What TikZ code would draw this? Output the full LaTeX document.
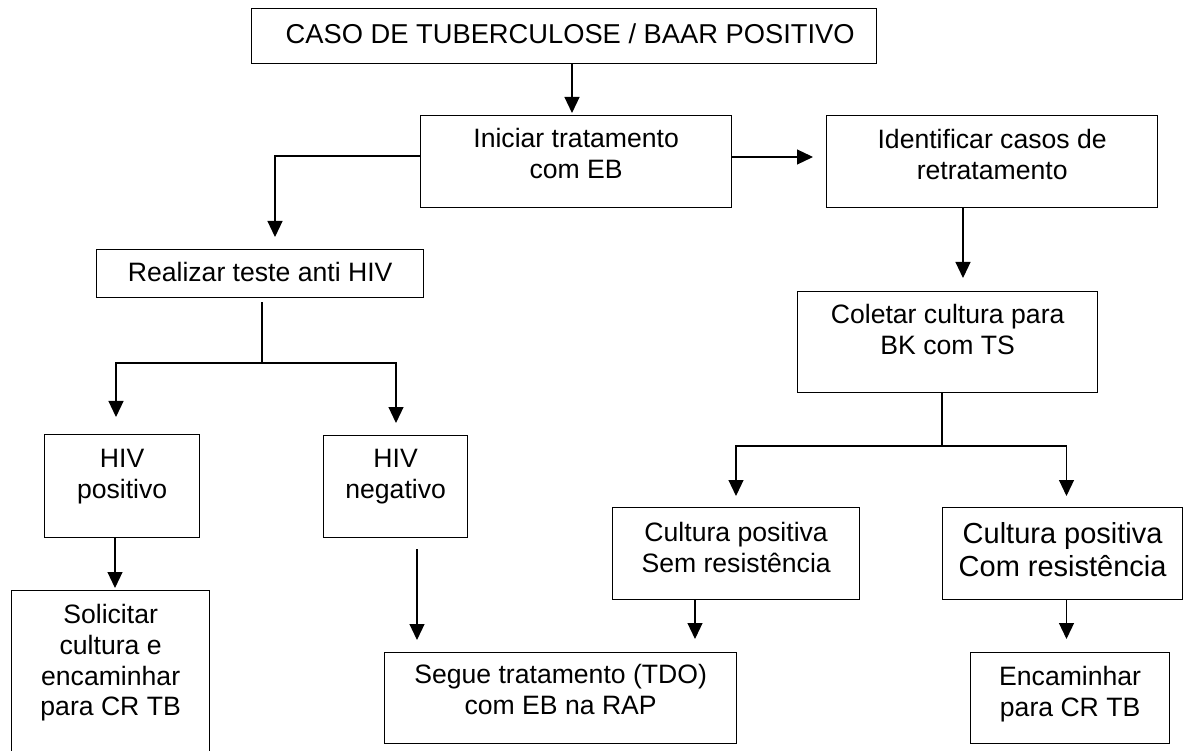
\documentclass[tikz,border=0pt]{standalone}
\usepackage{fontspec}
\setmainfont{Liberation Sans}
\usetikzlibrary{arrows.meta}
\newcommand\boxtxt[1]{\begin{tabular}[t]{@{}c@{}}#1\end{tabular}}
\begin{document}
\begin{tikzpicture}[x=1pt,y=-1pt,
  fbox/.style={draw, line width=1.3pt, inner sep=0pt, anchor=north west,
    font=\fontsize{26.6}{30.7}\selectfont},
  conn/.style={line width=1.2pt},
  arr/.style={conn, -{Triangle[length=16pt,width=15pt]}}]

\fill[white] (0,0) rectangle (1184,751);
\useasboundingbox (0,0) rectangle (1184,751);

% boxes
\node[fbox, minimum width=625pt, minimum height=55pt, text height=35pt, text depth=20pt,
  font=\fontsize{27.3}{31}\selectfont] (top) at (251,8) {\boxtxt{\hspace*{12pt}CASO DE TUBERCULOSE / BAAR POSITIVO}};
\node[fbox, minimum width=311pt, minimum height=92pt, text height=32pt, text depth=60pt] (ini) at (420,115) {\boxtxt{Iniciar tratamento\\com EB}};
\node[fbox, minimum width=331pt, minimum height=92pt, text height=33pt, text depth=59pt] (ide) at (826,115) {\boxtxt{Identificar casos de\\retratamento}};
\node[fbox, minimum width=327pt, minimum height=48pt, text height=32pt, text depth=16pt] (rea) at (96,249) {\boxtxt{Realizar teste anti HIV}};
\node[fbox, minimum width=300pt, minimum height=101pt, text height=32pt, text depth=69pt] (col) at (797,291) {\boxtxt{Coletar cultura para\\BK com TS}};
\node[fbox, minimum width=155pt, minimum height=103pt, text height=33pt, text depth=70pt] (hp) at (44,434) {\boxtxt{HIV\\positivo}};
\node[fbox, minimum width=144pt, minimum height=102pt, text height=32pt, text depth=70pt] (hn) at (323,435) {\boxtxt{HIV\\negativo}};
\node[fbox, minimum width=198pt, minimum height=170pt, text height=33pt, text depth=137pt] (sol) at (11,590) {\boxtxt{Solicitar\\cultura e\\encaminhar\\para CR TB}};
\node[fbox, minimum width=247pt, minimum height=92pt, text height=34pt, text depth=58pt] (sem) at (612,507) {\boxtxt{Cultura positiva\\Sem resistência}};
\node[fbox, minimum width=240pt, minimum height=92pt, text height=36pt, text depth=56pt,
  font=\fontsize{29}{33}\selectfont] (com) at (942,507) {\boxtxt{Cultura positiva\\Com resistência}};
\node[fbox, minimum width=352pt, minimum height=91pt, text height=31pt, text depth=60pt] (seg) at (384,652) {\boxtxt{Segue tratamento (TDO)\\com EB na RAP}};
\node[fbox, minimum width=199pt, minimum height=91pt, text height=33pt, text depth=58pt] (enc) at (970,652) {\boxtxt{Encaminhar\\para CR TB}};

% helper coordinates
\coordinate (x1) at (572,0);
\coordinate (y2) at (0,157);
\coordinate (x3) at (275,156);
\coordinate (j1) at (262,363);
\coordinate (xl) at (116,363);
\coordinate (xr) at (396,363);
\coordinate (x5) at (115,0);
\coordinate (x6) at (417,0);
\coordinate (x7) at (963,0);
\coordinate (j2) at (942,446);
\coordinate (xsl) at (736,446);
\coordinate (xsr) at (1066.5,446);
\coordinate (x9) at (695,0);
\coordinate (x10) at (1066.5,0);

% connectors
\draw[arr, shorten >=2pt] (x1 |- top.south) -- (x1 |- ini.north);
\draw[arr, shorten >=13pt] (ini.east |- y2) -- (ide.west |- y2);
\draw[arr, shorten >=12pt] (ini.west |- x3) -- (x3) -- (x3 |- rea.north);
\draw[conn, shorten <=4pt] (j1 |- rea.south) -- (j1);
\draw[arr, shorten >=17pt] (j1) -- (xl) -- (xl |- hp.north);
\draw[arr, shorten >=12pt] (j1) -- (xr) -- (xr |- hn.north);
\draw[arr, shorten >=2pt] (x5 |- hp.south) -- (x5 |- sol.north);
\draw[arr, shorten <=11pt, shorten >=12pt] (x6 |- hn.south) -- (x6 |- seg.north);
\draw[arr, shorten >=13pt] (x7 |- ide.south) -- (x7 |- col.north);
\draw[conn] (j2 |- col.south) -- (j2);
\draw[arr, shorten >=11pt] (j2) -- (xsl) -- (xsl |- sem.north);
\draw[arr, shorten >=11pt] (j2) -- (xsr) -- (xsr |- com.north);
\draw[arr, shorten >=13pt] (x9 |- sem.south) -- (x9 |- seg.north);
\draw[arr, shorten >=13pt] (x10 |- com.south) -- (x10 |- enc.north);
\end{tikzpicture}
\end{document}
